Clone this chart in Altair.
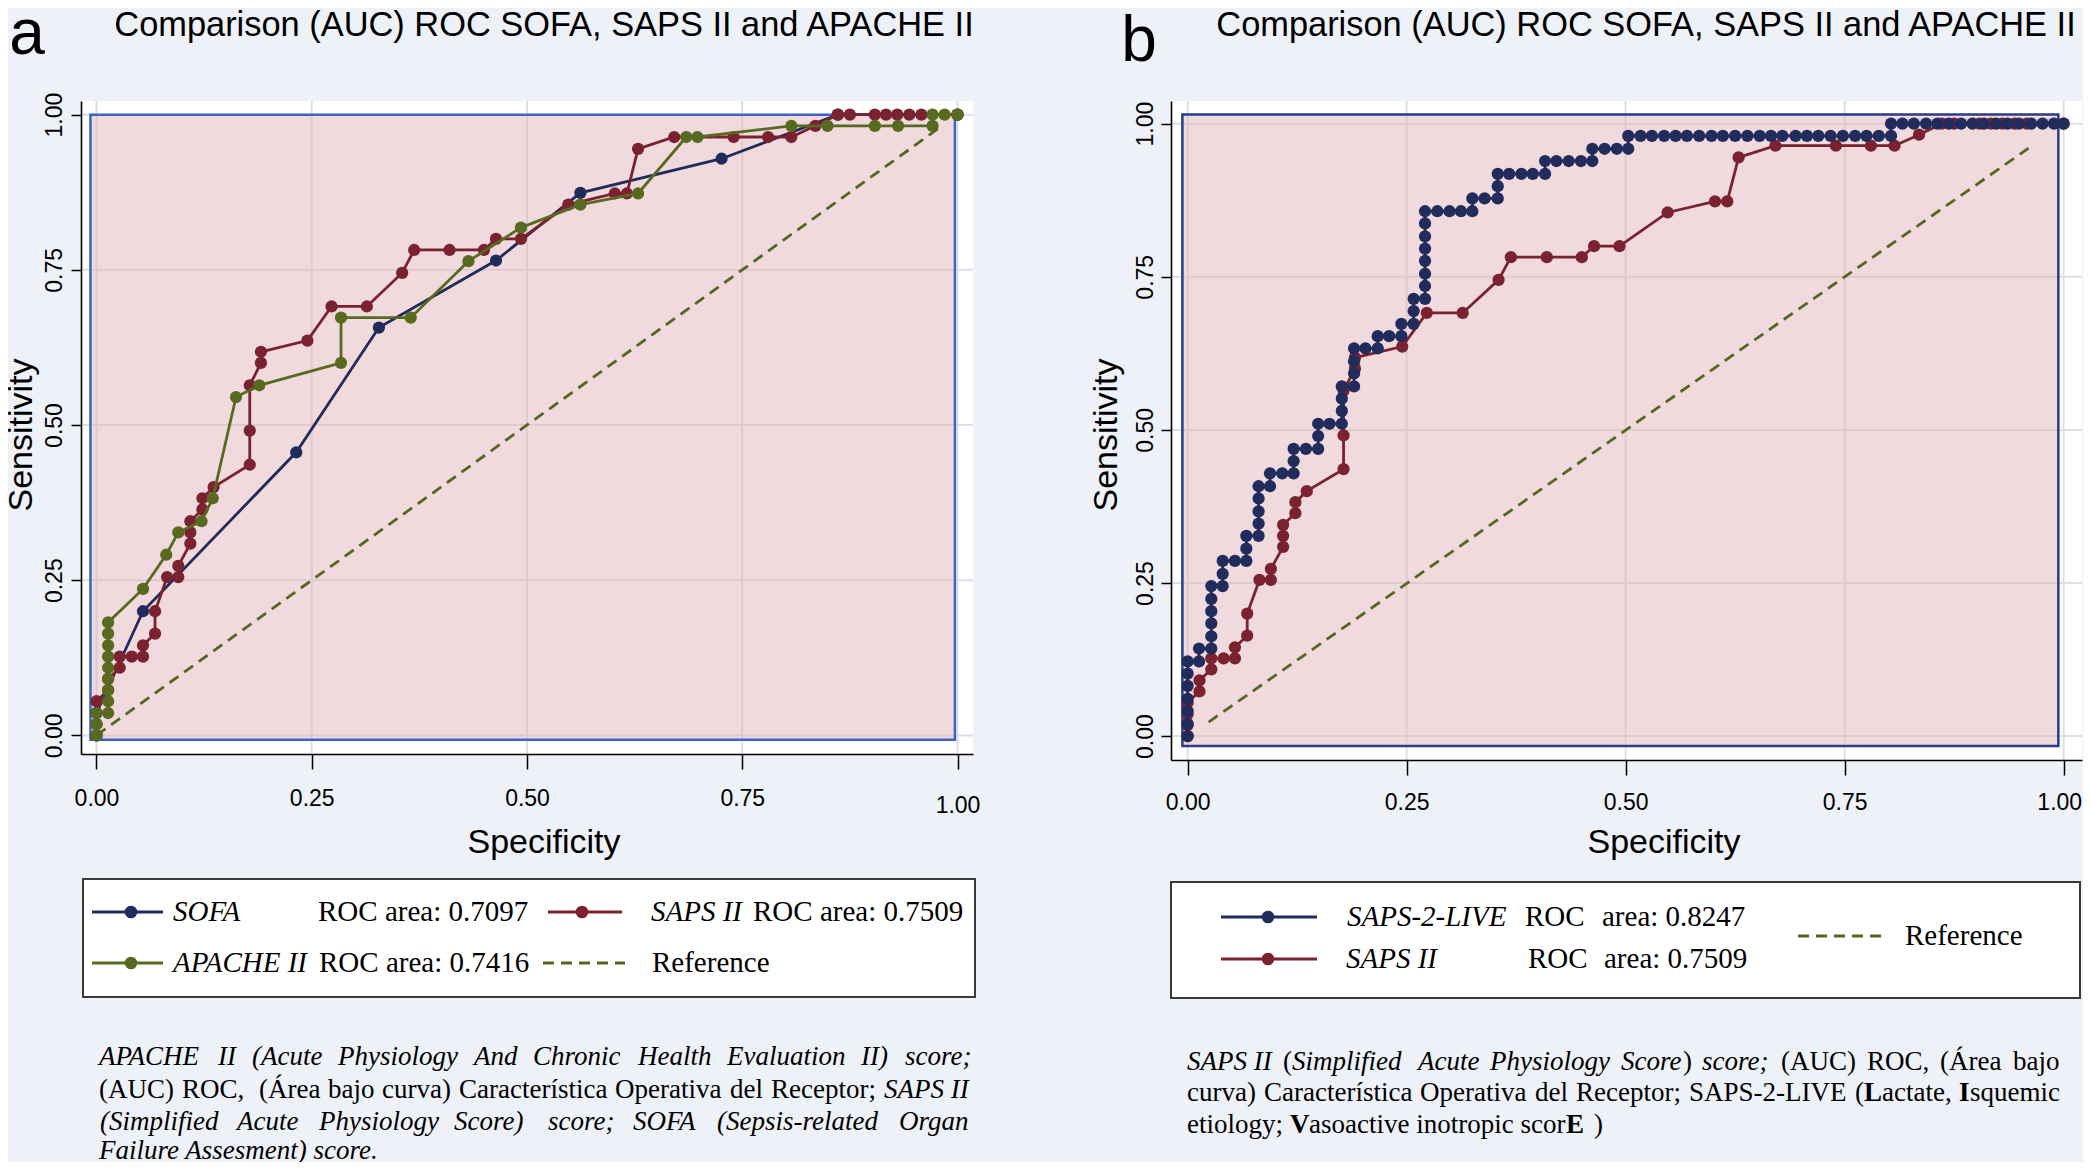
import altair as alt
import pandas as pd

# ---------------- data ----------------
tick_values = [0.0, 0.25, 0.5, 0.75, 1.0]

sofa_x = [0.0, 0.0, 0.054, 0.232, 0.328, 0.464, 0.562, 0.726, 0.861, 1.0]
sofa_y = [0.0, 0.036, 0.200, 0.456, 0.657, 0.765, 0.874, 0.929, 1.0, 1.0]

saps_x = [0.0, 0.0, 0.0, 0.0, 0.0135, 0.0135, 0.027, 0.027, 0.041, 0.054, 0.054,
          0.068, 0.068, 0.082, 0.095, 0.095, 0.109, 0.109, 0.109, 0.123, 0.123,
          0.136, 0.178, 0.178, 0.178, 0.191, 0.191, 0.245, 0.273, 0.314, 0.355,
          0.369, 0.410, 0.450, 0.464, 0.493, 0.548, 0.602, 0.616, 0.629, 0.671,
          0.740, 0.780, 0.807, 0.835, 0.861, 0.875, 0.904, 0.917, 0.930, 0.944,
          0.958, 1.0]
saps_y = [0.0, 0.018, 0.036, 0.055, 0.073, 0.091, 0.109, 0.127, 0.127, 0.127, 0.145,
          0.164, 0.200, 0.255, 0.255, 0.273, 0.309, 0.327, 0.345, 0.364, 0.382,
          0.400, 0.436, 0.491, 0.564, 0.600, 0.618, 0.636, 0.691, 0.691, 0.745,
          0.782, 0.782, 0.782, 0.800, 0.800, 0.855, 0.873, 0.873, 0.945, 0.964,
          0.964, 0.964, 0.964, 0.982, 1.0, 1.0, 1.0, 1.0, 1.0, 1.0,
          1.0, 1.0]

apache_x = [0.0, 0.0, 0.0, 0.0135, 0.0135, 0.0135, 0.0135, 0.0135, 0.0135, 0.0135,
            0.0135, 0.0135, 0.054, 0.081, 0.095, 0.122, 0.135, 0.162, 0.189, 0.284,
            0.284, 0.365, 0.432, 0.493, 0.562, 0.629, 0.685, 0.698, 0.807, 0.849,
            0.904, 0.931, 0.971, 0.971, 0.985, 1.0]
apache_y = [0.0, 0.018, 0.036, 0.036, 0.055, 0.073, 0.091, 0.109, 0.127, 0.145,
            0.164, 0.182, 0.236, 0.291, 0.327, 0.345, 0.382, 0.545, 0.564, 0.600,
            0.673, 0.673, 0.764, 0.818, 0.855, 0.873, 0.964, 0.964, 0.982, 0.982,
            0.982, 0.982, 0.982, 1.0, 1.0, 1.0]

live_x = [0.0, 0.0, 0.0, 0.0, 0.0, 0.0, 0.0,
          0.013, 0.013,
          0.027, 0.027, 0.027, 0.027, 0.027, 0.027,
          0.040, 0.040, 0.040,
          0.054,
          0.067, 0.067, 0.067,
          0.081, 0.081, 0.081, 0.081, 0.081,
          0.094, 0.094,
          0.108,
          0.121, 0.121, 0.121,
          0.135,
          0.149, 0.149, 0.149,
          0.162,
          0.176, 0.176, 0.176, 0.176,
          0.190, 0.190, 0.190, 0.190,
          0.203,
          0.217, 0.217,
          0.230,
          0.244, 0.244,
          0.258, 0.258, 0.258,
          0.271, 0.271, 0.271, 0.271, 0.271, 0.271, 0.271, 0.271,
          0.285, 0.299, 0.312,
          0.325, 0.325,
          0.339,
          0.354, 0.354, 0.354,
          0.367, 0.381, 0.394,
          0.408, 0.408,
          0.421, 0.435, 0.449,
          0.462, 0.462,
          0.476, 0.490,
          0.503, 0.503,
          0.517, 0.530, 0.544, 0.557, 0.570, 0.584, 0.598, 0.611, 0.625, 0.639,
          0.653, 0.666, 0.679, 0.694, 0.707, 0.720, 0.734, 0.748, 0.762, 0.775,
          0.789,
          0.803, 0.803,
          0.816, 0.829, 0.843, 0.856, 0.869, 0.883, 0.896, 0.909, 0.923, 0.936,
          0.949, 0.963, 0.976, 0.989, 1.0]
live_y = [0.000, 0.020, 0.041, 0.061, 0.082, 0.102, 0.122,
          0.122, 0.143,
          0.143, 0.163, 0.184, 0.204, 0.224, 0.245,
          0.245, 0.265, 0.286,
          0.286,
          0.286, 0.306, 0.327,
          0.327, 0.347, 0.367, 0.388, 0.408,
          0.408, 0.429,
          0.429,
          0.429, 0.449, 0.469,
          0.469,
          0.469, 0.490, 0.510,
          0.510,
          0.510, 0.531, 0.551, 0.571,
          0.571, 0.592, 0.612, 0.633,
          0.633,
          0.633, 0.653,
          0.653,
          0.653, 0.673,
          0.673, 0.694, 0.714,
          0.714, 0.735, 0.755, 0.776, 0.796, 0.816, 0.837, 0.857,
          0.857, 0.857, 0.857,
          0.857, 0.878,
          0.878,
          0.878, 0.898, 0.918,
          0.918, 0.918, 0.918,
          0.918, 0.939,
          0.939, 0.939, 0.939,
          0.939, 0.959,
          0.959, 0.959,
          0.959, 0.980,
          0.980, 0.980, 0.980, 0.980, 0.980, 0.980, 0.980, 0.980, 0.980, 0.980,
          0.980, 0.980, 0.980, 0.980, 0.980, 0.980, 0.980, 0.980, 0.980, 0.980,
          0.980,
          0.980, 1.0,
          1.0, 1.0, 1.0, 1.0, 1.0, 1.0, 1.0, 1.0, 1.0, 1.0,
          1.0, 1.0, 1.0, 1.0, 1.0]

ref_a_x = [0.0, 0.98]
ref_a_y = [0.0, 0.98]
ref_b_x = [0.024, 0.96]
ref_b_y = [0.023, 0.96]

title_text = "Comparison (AUC) ROC SOFA, SAPS II and APACHE II"
auc_sofa, auc_saps, auc_apache, auc_live = "0.7097", "0.7509", "0.7416", "0.8247"

# ---------------- styles ----------------
BG = "#eef1f7"
GRID = "#dcdfe5"
PINK = "#e4b6bc"
NAVY = "#222c5c"
MAROON = "#7a2230"
OLIVE = "#586a1f"
REFC = "#55661f"
SANS = "Liberation Sans"
SERIF = "Liberation Serif"
W, H = 2075, 1154
OFF = 8  # page margin

PANELS = {
    "a": dict(xdom=[-0.018, 1.018], xr=[73, 965], ydom=[-0.030, 1.022], yr=[746, 93],
              frame=[-0.007, 0.997, -0.007, 1.0], fcol="#3d63c6",
              xoff=746 - H, yoff=-73, xpad=18, ypad=5,
              last_pad=25, last_align="center", last_dx=0),
    "b": dict(xdom=[-0.019, 1.021], xr=[1163, 2074], ydom=[-0.039, 1.037], yr=[752, 93],
              frame=[-0.006, 0.994, -0.016, 1.015], fcol="#2a3b88",
              xoff=752 - H, yoff=-1163, xpad=16, ypad=4,
              last_pad=16, last_align="right", last_dx=18),
}


def scales(p):
    xs = alt.Scale(domain=p["xdom"], range=p["xr"], nice=False, zero=False)
    ys = alt.Scale(domain=p["ydom"], range=p["yr"], nice=False, zero=False)
    return xs, ys


def panel_layers(p, series, ref_x, ref_y):
    xs, ys = scales(p)
    out = []
    bg = pd.DataFrame({"x0": [p["xdom"][0]], "x1": [p["xdom"][1]],
                       "y0": [p["ydom"][0]], "y1": [p["ydom"][1]]})
    last = "datum.value >= 0.999"
    xaxis = alt.Axis(orient="bottom", offset=p["xoff"], values=tick_values, format=".2f",
                     grid=False, title=None, tickSize=15, tickWidth=1.5, tickColor="black",
                     domainColor="black", domainWidth=1.6,
                     labelPadding={"condition": {"test": last, "value": p["last_pad"]},
                                   "value": p["xpad"]},
                     labelAlign={"condition": {"test": last, "value": p["last_align"]},
                                 "value": "center"},
                     labelOffset={"condition": {"test": last, "value": p["last_dx"]},
                                  "value": 0},
                     labelFont=SANS, labelFontSize=23, labelColor="black",
                     labelFlush=False, labelOverlap=False, zindex=1)
    yaxis = alt.Axis(orient="left", offset=p["yoff"], values=tick_values, format=".2f",
                     grid=False, title=None, tickSize=10, tickWidth=1.5, tickColor="black",
                     domainColor="black", domainWidth=1.6, labelPadding=p["ypad"],
                     labelFont=SANS, labelFontSize=23, labelColor="black",
                     labelAngle=270, labelAlign="center", labelBaseline="bottom",
                     labelFlush=False, labelOverlap=False, zindex=1)
    out.append(alt.Chart(bg).mark_rect(fill="white").encode(
        x=alt.X("x0:Q", scale=xs, axis=xaxis), x2="x1:Q",
        y=alt.Y("y0:Q", scale=ys, axis=yaxis), y2="y1:Q"))
    gv = pd.DataFrame({"g": tick_values, "lo": p["ydom"][0], "hi": p["ydom"][1]})
    out.append(alt.Chart(gv).mark_rule(color=GRID, strokeWidth=2).encode(
        x=alt.X("g:Q", scale=xs, axis=None),
        y=alt.Y("lo:Q", scale=ys, axis=None), y2="hi:Q"))
    gh = pd.DataFrame({"g": tick_values, "lo": p["xdom"][0], "hi": p["xdom"][1]})
    out.append(alt.Chart(gh).mark_rule(color=GRID, strokeWidth=2).encode(
        y=alt.Y("g:Q", scale=ys, axis=None),
        x=alt.X("lo:Q", scale=xs, axis=None), x2="hi:Q"))
    f = p["frame"]
    fr = pd.DataFrame({"x0": [f[0]], "x1": [f[1]], "y0": [f[2]], "y1": [f[3]]})
    out.append(alt.Chart(fr).mark_rect(fill=PINK, fillOpacity=0.5, stroke=p["fcol"],
                                       strokeWidth=2.5).encode(
        x=alt.X("x0:Q", scale=xs, axis=None), x2="x1:Q",
        y=alt.Y("y0:Q", scale=ys, axis=None), y2="y1:Q"))
    for sx, sy, col in series:
        df = pd.DataFrame({"x": sx, "y": sy, "i": list(range(len(sx)))})
        out.append(alt.Chart(df).mark_line(color=col, strokeWidth=2.8).encode(
            x=alt.X("x:Q", scale=xs, axis=None), y=alt.Y("y:Q", scale=ys, axis=None),
            order="i:Q"))
        out.append(alt.Chart(df).mark_circle(color=col, size=150, opacity=1).encode(
            x=alt.X("x:Q", scale=xs, axis=None), y=alt.Y("y:Q", scale=ys, axis=None)))
    rdf = pd.DataFrame({"x": ref_x, "y": ref_y})
    out.append(alt.Chart(rdf).mark_line(color=REFC, strokeWidth=2.8, strokeDash=[11, 7]).encode(
        x=alt.X("x:Q", scale=xs, axis=None), y=alt.Y("y:Q", scale=ys, axis=None)))
    return out


def pix(df):
    df = df.copy()
    for c in df.columns:
        if c.startswith("x") or c.startswith("y"):
            df[c] = df[c] - OFF
    return df


def texts(rows, font, size, style="normal", weight="normal", align="left",
          baseline="middle", angle=0):
    df = pix(pd.DataFrame(rows, columns=["t", "x", "y"]))
    return alt.Chart(df).mark_text(font=font, fontSize=size, fontStyle=style,
                                   fontWeight=weight, align=align, baseline=baseline,
                                   angle=angle, color="black").encode(
        x=alt.X("x:Q", scale=None, axis=None), y=alt.Y("y:Q", scale=None, axis=None),
        text="t:N")


layers = []
layers += panel_layers(PANELS["a"],
                       [(sofa_x, sofa_y, NAVY), (saps_x, saps_y, MAROON),
                        (apache_x, apache_y, OLIVE)], ref_a_x, ref_a_y)
layers += panel_layers(PANELS["b"],
                       [(saps_x, saps_y, MAROON), (live_x, live_y, NAVY)],
                       ref_b_x, ref_b_y)

layers.append(texts([("a", 27, 54), ("b", 1139, 61)], SANS, 64, align="center",
                    baseline="alphabetic"))
layers.append(texts([(title_text, 544, 36), (title_text, 1646, 36)], SANS, 34.4,
                    align="center", baseline="alphabetic"))
layers.append(texts([("Specificity", 544, 853), ("Specificity", 1664, 853)], SANS, 34,
                    align="center", baseline="alphabetic"))
layers.append(texts([("Sensitivity", 32, 435), ("Sensitivity", 1117, 435)], SANS, 34,
                    align="center", baseline="alphabetic", angle=270))

boxes = pix(pd.DataFrame({"x0": [83, 1171], "x1": [975, 2080],
                          "y0": [879, 882], "y1": [997, 998]}))
layers.append(alt.Chart(boxes).mark_rect(fill="white", stroke="#3a3a3a", strokeWidth=2).encode(
    x=alt.X("x0:Q", scale=None, axis=None), x2="x1:Q",
    y=alt.Y("y0:Q", scale=None, axis=None), y2="y1:Q"))
sym = pix(pd.DataFrame({"x0": [92, 548, 92, 1221, 1221],
                        "x1": [163, 622, 163, 1317, 1317],
                        "y": [912, 912, 963, 917, 959],
                        "xd": [131, 582, 131, 1268, 1268],
                        "c": [NAVY, MAROON, OLIVE, NAVY, MAROON]}))
layers.append(alt.Chart(sym).mark_rule(strokeWidth=3).encode(
    x=alt.X("x0:Q", scale=None, axis=None), x2="x1:Q",
    y=alt.Y("y:Q", scale=None, axis=None), color=alt.Color("c:N", scale=None)))
layers.append(alt.Chart(sym).mark_circle(size=160, opacity=1).encode(
    x=alt.X("xd:Q", scale=None, axis=None),
    y=alt.Y("y:Q", scale=None, axis=None), color=alt.Color("c:N", scale=None)))
dsym = pix(pd.DataFrame({"x0": [543, 1798], "x1": [625, 1881], "y": [963, 936]}))
layers.append(alt.Chart(dsym).mark_rule(strokeWidth=3, color=REFC, strokeDash=[11, 7]).encode(
    x=alt.X("x0:Q", scale=None, axis=None), x2="x1:Q",
    y=alt.Y("y:Q", scale=None, axis=None)))

layers.append(texts([("ROC area: " + auc_sofa, 318, 912), ("ROC area: " + auc_saps, 753, 912),
                     ("ROC area: " + auc_apache, 319, 963), ("Reference", 652, 963),
                     ("ROC", 1525, 917), ("area: " + auc_live, 1602, 917),
                     ("ROC", 1528, 959), ("area: " + auc_saps, 1604, 959),
                     ("Reference", 1905, 936)], SERIF, 29))
layers.append(texts([("SOFA", 173, 912), ("SAPS II", 651, 912), ("APACHE II", 173, 963),
                     ("SAPS-2-LIVE", 1347, 917), ("SAPS II", 1346, 959)], SERIF, 29,
                    style="italic"))

cap_italic = [
    ("APACHE", 99, 1057), ("II", 218, 1057), ("(Acute", 252, 1057), ("Physiology", 338, 1057),
    ("And", 474, 1057), ("Chronic", 533, 1057), ("Health", 638, 1057),
    ("Evaluation", 727, 1057), ("II)", 861, 1057), ("score;", 905, 1057),
    ("SAPS II", 884, 1090),
    ("(Simplified", 100, 1122), ("Acute", 237, 1122), ("Physiology", 319, 1122),
    ("Score)", 454, 1122), ("score;", 548, 1122), ("SOFA", 633, 1122),
    ("(Sepsis-related", 717, 1122), ("Organ", 899, 1122),
    ("Failure Assesment) score.", 99, 1151),
    ("SAPS II", 1187, 1062), ("Simplified", 1292, 1062), ("Acute", 1418, 1062),
    ("Physiology", 1490, 1062), ("Score", 1621, 1062), ("score;", 1702, 1062),
]
cap_roman = [
    ("(AUC)", 99, 1090), ("ROC,", 182, 1090), ("(Área", 259, 1090), ("bajo", 328, 1090),
    ("curva)", 382, 1090), ("Característica", 459, 1090), ("Operativa", 615, 1090),
    ("del", 730, 1090), ("Receptor;", 771, 1090),
    ("(", 1283, 1062), (")", 1683, 1062), ("(AUC)", 1781, 1062), ("ROC,", 1867, 1062),
    ("(Área", 1940, 1062), ("bajo", 2013, 1062),
    ("curva)", 1187, 1093), ("Característica", 1264, 1093), ("Operativa", 1420, 1093),
    ("del", 1535, 1093), ("Receptor;", 1576, 1093), ("SAPS-2-LIVE", 1689, 1093),
    ("(", 1855, 1093), ("actate,", 1882, 1093), ("squemic", 1970, 1093),
    ("etiology;", 1187, 1125), ("asoactive inotropic scor", 1309, 1125), (")", 1594, 1125),
]
cap_bold = [("L", 1864, 1093), ("I", 1959, 1093), ("V", 1290, 1125), ("E", 1566, 1125)]
layers.append(texts(cap_italic, SERIF, 27, style="italic"))
layers.append(texts(cap_roman, SERIF, 27))
layers.append(texts(cap_bold, SERIF, 27, weight="bold"))

chart = alt.layer(*layers).resolve_scale(
    x="independent", y="independent").resolve_axis(
    x="independent", y="independent").properties(
    width=W, height=H, autosize=alt.AutoSizeParams(type="none"), padding=0,
    background=BG).configure_view(stroke=None)

chart.save("out.html", embed_options={"renderer": "svg", "actions": False})
